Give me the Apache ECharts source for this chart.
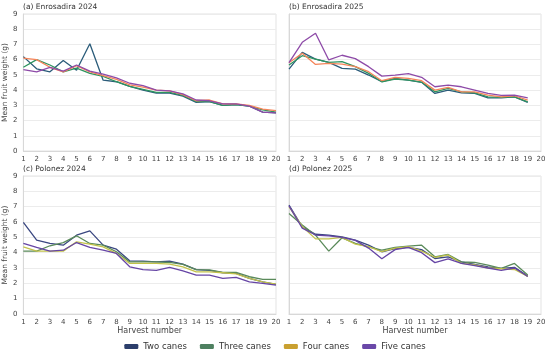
<!DOCTYPE html>
<html><head><meta charset="utf-8">
<script src="https://cdn.jsdelivr.net/npm/echarts@6/dist/echarts.min.js"></script>
<style>html,body{margin:0;padding:0;background:#fff}#c{width:550px;height:359px}</style>
</head><body><div id="c"></div>
<script>
const harvest = [1,2,3,4,5,6,7,8,9,10,11,12,13,14,15,16,17,18,19,20];
const seriesNames = ['Two canes','Three canes','Four canes','Five canes'];
const panelTitles = ['(a) Enrosadira 2024','(b) Enrosadira 2025','(c) Polonez 2024','(d) Polonez 2025'];
const yTicks = [0,1,2,3,4,5,6,7,8,9];

// (a) Enrosadira 2024
const enr24Two   = [6.2,5.4,5.2,5.95,5.3,7.05,4.65,4.55,4.25,4.0,3.8,3.8,3.6,3.2,3.25,3.0,3.05,2.95,2.55,2.5];
const enr24Three = [5.5,6.0,5.65,5.2,5.45,5.1,4.9,4.55,4.25,4.05,3.85,3.85,3.65,3.25,3.25,3.0,3.05,2.95,2.7,2.55];
const enr24Four  = [6.1,6.0,5.5,5.2,5.6,5.2,4.95,4.7,4.35,4.2,4.0,3.95,3.7,3.3,3.35,3.1,3.1,3.0,2.75,2.65];
const enr24Five  = [5.35,5.2,5.5,5.25,5.65,5.25,5.05,4.8,4.45,4.3,4.0,3.95,3.75,3.35,3.3,3.1,3.1,2.95,2.55,2.5];
// (b) Enrosadira 2025
const enr25Two   = [5.38,6.48,6.04,5.82,5.43,5.38,4.99,4.55,4.77,4.66,4.51,3.78,4.0,3.82,3.78,3.49,3.49,3.56,3.19];
const enr25Three = [5.65,6.26,6.04,5.82,5.87,5.54,5.1,4.55,4.73,4.66,4.53,3.89,4.11,3.89,3.82,3.56,3.52,3.56,3.23];
const enr25Four  = [5.8,6.42,5.69,5.76,5.71,5.54,5.21,4.62,4.84,4.77,4.62,4.0,4.18,3.89,3.89,3.67,3.56,3.63,3.34];
const enr25Five  = [5.8,7.14,7.74,5.98,6.29,6.07,5.54,4.92,4.99,5.08,4.84,4.22,4.33,4.22,4.0,3.78,3.65,3.67,3.49];
// (c) Polonez 2024
const pol24Two   = [5.97,4.82,4.6,4.49,5.14,5.42,4.49,4.23,3.47,3.45,3.4,3.45,3.25,2.9,2.84,2.69,2.65,2.32,2.1,1.93];
const pol24Three = [4.1,4.1,4.45,4.66,5.1,4.6,4.49,4.06,3.4,3.4,3.4,3.36,3.23,2.9,2.88,2.71,2.71,2.43,2.26,2.26];
const pol24Four  = [4.38,4.1,4.1,4.1,4.71,4.56,4.38,3.95,3.3,3.3,3.3,3.25,3.08,2.75,2.75,2.69,2.62,2.32,2.1,1.95];
const pol24Five  = [4.6,4.34,4.1,4.16,4.66,4.34,4.16,3.95,3.08,2.9,2.84,3.04,2.82,2.54,2.54,2.32,2.39,2.1,2.0,1.89];
// (d) Polonez 2025
const pol25Two   = [7.1,5.68,5.2,5.14,5.03,4.82,4.49,4.06,4.27,4.34,4.2,3.62,3.73,3.4,3.23,3.08,2.97,3.04,2.47];
const pol25Three = [6.55,5.8,5.14,4.1,4.97,4.6,4.38,4.16,4.34,4.43,4.49,3.73,3.88,3.4,3.36,3.19,2.97,3.3,2.55];
const pol25Four  = [7.0,5.7,4.9,4.9,5.0,4.55,4.4,4.06,4.3,4.4,4.1,3.7,3.85,3.3,3.2,3.0,2.95,2.9,2.45];
const pol25Five  = [7.05,5.6,5.15,5.1,5.0,4.8,4.3,3.6,4.2,4.35,4.0,3.35,3.6,3.3,3.15,3.0,2.85,3.0,2.45];

const panelData = [
  [enr24Two, enr24Three, enr24Four, enr24Five],
  [enr25Two, enr25Three, enr25Four, enr25Five],
  [pol24Two, pol24Three, pol24Four, pol24Five],
  [pol25Two, pol25Three, pol25Four, pol25Five]
];
const topColors = ['#2b5c7a','#2e9460','#f5855a','#8e4ba8'];
const botColors = ['#3a4780','#5a8a5a','#c2c24a','#6645a5'];
const legendColors = ['#2c3e6b','#4e8060','#c9a030','#6a48a8'];

const grids = [
  {left:23, top:14, width:253, height:137},
  {left:289, top:14, width:252, height:137},
  {left:23, top:176, width:253, height:138},
  {left:289, top:176, width:252, height:138}
];
const txt = '#444';
const font = 'DejaVu Sans';
const option = {
  animation:false,
  textStyle:{fontFamily:font},
  title: panelTitles.map((t,i)=>({text:t, left:grids[i].left, top:grids[i].top-11,
    textStyle:{fontSize:7.5, fontWeight:'normal', color:'#333', fontFamily:font}, padding:0})),
  grid: grids.map(g=>Object.assign({show:true, borderColor:'#e3e3e3', borderWidth:1}, g)),
  xAxis: grids.map((g,i)=>({type:'value', gridIndex:i, min:1, max:20, interval:1,
    name: i>=2 ? 'Harvest number' : '', nameLocation:'middle', nameGap:13,
    nameTextStyle:{fontSize:8, color:txt},
    axisLine:{show:true, lineStyle:{color:'#d8d8d8'}}, axisTick:{show:false},
    splitLine:{show:false},
    axisLabel:{fontSize:7, color:txt, margin:5}})),
  yAxis: grids.map((g,i)=>({type:'value', gridIndex:i, min:0, max:9, interval:1,
    name: (i%2===0) ? 'Mean fruit weight (g)' : '', nameLocation:'middle', nameGap:13,
    nameTextStyle:{fontSize:7.5, color:txt},
    axisLine:{show:true, lineStyle:{color:'#d8d8d8'}}, axisTick:{show:false},
    splitLine:{show:true, lineStyle:{color:'#ececec', width:1}},
    axisLabel:{show: i%2===0, fontSize:7, color:txt, margin:6,
      formatter:v=>String(yTicks[v] !== undefined ? yTicks[v] : v)}})),
  legend:{bottom:3, left:'center', icon:'roundRect', itemWidth:14, itemHeight:5, itemGap:13,
    textStyle:{fontSize:8.5, color:'#333', fontFamily:font},
    data: seriesNames.map((n,k)=>({name:n, itemStyle:{color:legendColors[k]}}))},
  series: []
};
panelData.forEach((arrs,i)=>{
  arrs.forEach((vals,k)=>{
    option.series.push({type:'line', name:seriesNames[k], xAxisIndex:i, yAxisIndex:i,
      data: vals.map((v,j)=>[harvest[j], v]), showSymbol:false, symbol:'none',
      lineStyle:{width:1.3, color: i<2 ? topColors[k] : botColors[k]},
      itemStyle:{color: i<2 ? topColors[k] : botColors[k]}, z: 2});
  });
});
const chart = echarts.init(document.getElementById('c'), null, {renderer:'canvas'});
chart.setOption(option);
</script></body></html>
